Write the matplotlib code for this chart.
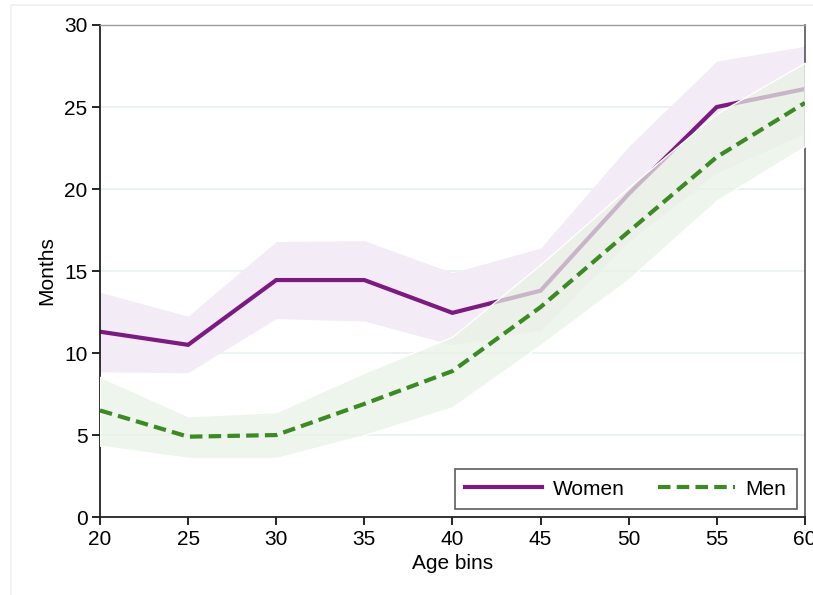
import numpy as np
import matplotlib.pyplot as plt
from matplotlib.patches import Rectangle

plt.rcParams['font.family'] = ['Liberation Sans', 'DejaVu Sans']

# Age bins
age = [20, 25, 30, 35, 40, 45, 50, 55, 60]

# Women: mean months and confidence band
women = [11.3, 10.5, 14.45, 14.45, 12.45, 13.8, 19.7, 25.0, 26.1]
women_hi = [13.7, 12.25, 16.8, 16.85, 14.9, 16.4, 22.6, 27.8, 28.7]
women_lo = [8.85, 8.8, 12.1, 11.95, 10.5, 11.4, 16.8, 21.0, 23.4]

# Men: mean months and confidence band
men = [6.5, 4.9, 5.0, 6.9, 8.9, 12.8, 17.4, 21.95, 25.25]
men_hi = [8.55, 6.15, 6.4, 8.8, 11.0, 15.4, 20.1, 24.6, 27.7]
men_lo = [4.35, 3.6, 3.6, 5.0, 6.7, 10.5, 14.5, 19.3, 22.6]

purple = '#7b1a80'
green = '#3b8a23'
fs = 15

fig = plt.figure(figsize=(8.13, 5.95), dpi=100)
ax = fig.add_axes([0.123, 0.131, 0.867, 0.827])

# faint outer frame
fig.patches.append(Rectangle((0.0135, -0.01), 1.0, 1.002, transform=fig.transFigure,
                             fill=False, edgecolor='#eef1f1', lw=1.2))

for y in [5, 10, 15, 20, 25]:
    ax.axhline(y, color='#eaf2f2', lw=1.5, zorder=0)

ax.fill_between(age, women_lo, women_hi, color='#f3ebf5', lw=0, zorder=1)
ax.plot(age, women, color=purple, lw=3, solid_joinstyle='miter', label='Women', zorder=2)
ax.fill_between(age, men_lo, men_hi, facecolor=(232/255, 242/255, 229/255, 0.72),
                edgecolor='white', lw=1.0, zorder=3)
ax.plot(age, men, color=green, lw=3, dashes=(3, 1.5), label='Men', zorder=4)

ax.set_xlim(20, 60)
ax.set_ylim(0, 30)
ax.set_xticks(range(20, 61, 5))
ax.set_yticks(range(0, 31, 5))
ax.tick_params(axis='both', labelsize=fs, length=6, width=1.2, direction='out', pad=3)
ax.set_xlabel('Age bins', fontsize=fs, labelpad=4)
ax.set_ylabel('Months', fontsize=fs, labelpad=6)

for s in ['left', 'bottom']:
    ax.spines[s].set_linewidth(1.3)
    ax.spines[s].set_color('#222222')
ax.spines['top'].set_color('#9a9a9a')
ax.spines['top'].set_linewidth(1.0)
ax.spines['right'].set_color('#555555')
ax.spines['right'].set_linewidth(1.2)

leg = ax.legend(loc='lower right', ncol=2, fontsize=fs, frameon=True, fancybox=False,
                edgecolor='#333333', handlelength=3.7, handletextpad=0.5,
                columnspacing=1.6, borderpad=0.5, borderaxespad=0,
                bbox_to_anchor=(0.9887, 0.016))
leg.get_frame().set_linewidth(1.2)

fig.savefig('out.png', dpi=100)
